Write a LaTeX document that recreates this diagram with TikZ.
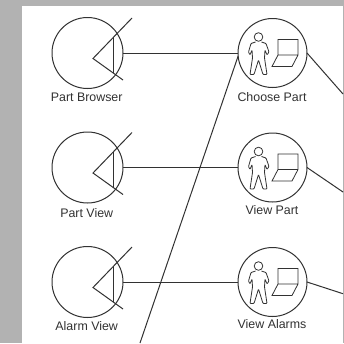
\documentclass[tikz,border=0pt]{standalone}
\usepackage{fontspec}
\setmainfont{Liberation Sans}
\usepackage{tikz}
\usetikzlibrary{positioning}
\usetikzlibrary{calc}
\definecolor{pagegray}{RGB}{178,178,178}
\definecolor{inkgray}{RGB}{50,50,50}
\tikzstyle{input} = [coordinate]
\tikzstyle{output} = [coordinate]
\tikzstyle{view} = [circle, draw, inner sep=0pt, outer sep=0pt, minimum size=71pt]
\tikzstyle{control} = [circle, draw, inner sep=0pt, outer sep=0pt, minimum size=69pt]
\tikzstyle{caption} = [inner sep=0pt, font=\fontsize{12.4pt}{14pt}\selectfont, text=inkgray, anchor=center]
% boundary mark on a view
\newcommand{\viewmark}[1]{
    \begin{scope}[shift={(#1.center)}, x=1pt, y=1pt]
        \draw (44.5,35) -- (5.5,-5.5) -- (35.5,-27);
        \draw (26,16) -- (26,-20);
    \end{scope}
}
% person and laptop inside a control
\newcommand{\actormark}[1]{
    \begin{scope}[shift={(#1.center)}, x=1pt, y=1pt, line width=0.8pt]
        \draw (-14,16) circle (4.3);
        \draw[rounded corners=0.8pt] (-17,11) -- (-21.5,9.5) -- (-24,1) -- (-22.5,-2) -- (-20.5,3) -- (-20,-5) -- (-22.5,-21.5) -- (-18.5,-21.5) -- (-14,-7) -- (-9.5,-21.5) -- (-5.5,-21.5) -- (-8,-5) -- (-7.5,3) -- (-5.5,-2) -- (-3.5,1) -- (-6.5,9.5) -- (-11,11);
        \draw (5.5,-2) -- (5.5,13.5) -- (25.5,13.5) -- (25.5,-2) -- (5.5,-2) -- (-0.5,-13.5) -- (19.5,-13.5) -- (25.5,-2);
    \end{scope}
}

\begin{document}
\begin{tikzpicture}[node distance=43.5pt and 113pt, line width=1pt, draw=inkgray, inkgray]
            \useasboundingbox (0,0) rectangle (344pt,-343pt);
            \fill[pagegray] (0,0) rectangle (344pt,-343pt);
            \fill[white] (22pt,-6pt) rectangle (343pt,-343pt);

            \node [view] (partbrowser) at (87.5pt,-53pt) {};
            \node [view, below= of partbrowser] (partview) {};
            \node [view, below= of partview] (alarmview) {};
            \node [control, right= of partbrowser, xshift=2pt] (choosepart) {};
            \node [control, right= of partview, xshift=2pt] (viewpart) {};
            \node [control, right= of alarmview, xshift=2pt] (viewalarms) {};

            \node [caption] (partbrowserlabel) at ($(partbrowser)+(-0.8pt,-44pt)$) {Part Browser};
            \node [caption] (partviewlabel) at ($(partview)+(-0.8pt,-45.5pt)$) {Part View};
            \node [caption] (alarmviewlabel) at ($(alarmview)+(-0.8pt,-44pt)$) {Alarm View};
            \node [caption] (choosepartlabel) at ($(choosepart)+(-0.5pt,-44pt)$) {Choose Part};
            \node [caption] (viewpartlabel) at ($(viewpart)+(-0.5pt,-43pt)$) {View Part};
            \node [caption] (viewalarmslabel) at ($(viewalarms)+(-0.5pt,-42pt)$) {View Alarms};

            \viewmark{partbrowser}
            \viewmark{partview}
            \viewmark{alarmview}
            \actormark{choosepart}
            \actormark{viewpart}
            \actormark{viewalarms}

            \node [input] (diagonalend) at (140pt,-343pt) {};
            \node [output] (chooseexit) at (343pt,-94pt) {};
            \node [output] (viewexit) at (343pt,-192pt) {};
            \node [output] (alarmsexit) at (343pt,-293.7pt) {};

            \draw (partbrowser) -- (choosepart);
            \draw (partview) -- (viewpart);
            \draw (alarmview) -- (viewalarms);

            \draw (diagonalend) -- (choosepart.185);

            \draw (choosepart.east) -- (chooseexit);
            \draw (viewpart.east) -- (viewexit);
            \draw (viewalarms.east) -- (alarmsexit);
        \end{tikzpicture}
\end{document}
